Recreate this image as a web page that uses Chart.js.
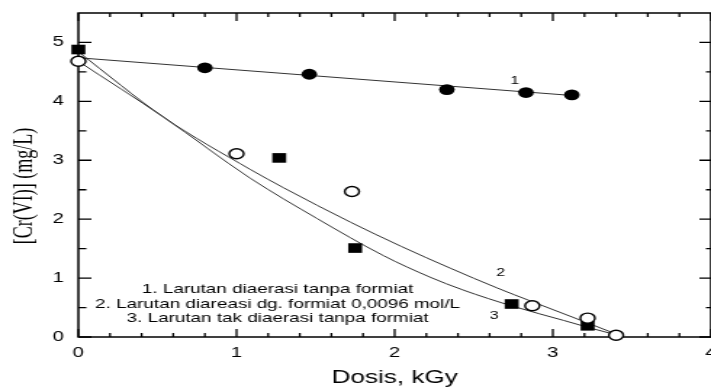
<!DOCTYPE html>
<html>
<head>
<meta charset="utf-8">
<script src="https://cdn.jsdelivr.net/npm/chart.js@4.4.1/dist/chart.umd.min.js"></script>
<style>
  html, body { margin: 0; padding: 0; background: #fff; overflow: hidden; }
  #wrap { width: 711px; height: 387px; overflow: hidden; position: relative; }
  #c { position: absolute; left: 0; top: 0; transform: scaleX(1.451); transform-origin: 0 0; }
</style>
</head>
<body>
<div id="wrap"><canvas id="c" width="490" height="387" style="width:490px;height:387px"></canvas></div>
<script>
// ---- data ----
// 1. Larutan diaerasi tanpa formiat (filled circles)
const s1Dose = [0.80, 1.46, 2.33, 2.83, 3.12];
const s1Cr   = [4.57, 4.46, 4.20, 4.15, 4.11];
// 2. open circles
const s2Dose = [0.00, 1.00, 1.73, 2.87, 3.22, 3.40];
const s2Cr   = [4.68, 3.11, 2.47, 0.53, 0.32, 0.03];
// 3. filled squares
const s3Dose = [0.00, 1.27, 1.75, 2.74, 3.22];
const s3Cr   = [4.88, 3.04, 1.51, 0.56, 0.19];
// fitted lines
const fit1Dose = [0.00, 3.12];
const fit1Cr   = [4.74, 4.10];
const fit2Dose = [0.00, 0.54, 1.09, 1.30, 1.72, 2.04, 2.35, 2.65, 2.86, 3.17, 3.41];
const fit2Cr   = [4.84, 3.73, 2.84, 2.53, 1.95, 1.54, 1.17, 0.83, 0.61, 0.29, 0.04];
const fit3Dose = [0.00, 0.54, 1.09, 1.51, 1.93, 2.22, 2.43, 2.75, 3.07, 3.24, 3.41];
const fit3Cr   = [4.68, 3.73, 2.69, 2.01, 1.38, 1.02, 0.80, 0.52, 0.28, 0.15, 0.03];
// tick labels
const xTickValues = [0, 1, 2, 3, 4];
const yTickValues = [0, 1, 2, 3, 4, 5];
// texts
const xTitle = 'Dosis, kGy';
const yTitle = '[Cr(VI)] (mg/L)';
const noteLines = [
  '1. Larutan diaerasi tanpa formiat',
  '2. Larutan diareasi dg. formiat 0,0096 mol/L',
  '3. Larutan tak diaerasi tanpa formiat'
];
const curveLabels = ['1', '2', '3'];

const pts = (xs, ys) => xs.map((v, i) => ({ x: v, y: ys[i] }));
const SANS = '"Liberation Sans", Arial, Helvetica, sans-serif';

const framePlugin = {
  id: 'frame',
  beforeDatasetsDraw(chart) {
    const { ctx, chartArea: a, scales: { x, y } } = chart;
    ctx.save();
    ctx.strokeStyle = '#000';
    ctx.lineWidth = 1.5;
    ctx.strokeRect(a.left, a.top, a.right - a.left, a.bottom - a.top);
    ctx.lineWidth = 1.3;
    ctx.beginPath();
    for (let i = 0; i <= 20; i++) {
      const px = x.getPixelForValue(i * 0.2);
      const L = (i % 5 === 0) ? 8 : 4;
      ctx.moveTo(px, a.bottom); ctx.lineTo(px, a.bottom - L);
      ctx.moveTo(px, a.top); ctx.lineTo(px, a.top + L);
    }
    for (let i = 0; i <= 10; i++) {
      const py = y.getPixelForValue(i * 0.5);
      const major = i % 2 === 0;
      ctx.moveTo(a.left, py); ctx.lineTo(a.left + (major ? 9 : 5.5), py);
      ctx.moveTo(a.right, py); ctx.lineTo(a.right - (major ? 8 : 3.5), py);
    }
    ctx.stroke();
    ctx.restore();
  },
  afterDatasetsDraw(chart) {
    const { ctx, scales: { x, y } } = chart;
    ctx.save();
    ctx.fillStyle = '#000';
    ctx.textAlign = 'center';
    ctx.textBaseline = 'middle';
    ctx.font = '13px ' + SANS;
    const noteX = 1.26, noteY = [0.80, 0.56, 0.32];
    noteLines.forEach((t, i) => ctx.fillText(t, x.getPixelForValue(noteX), y.getPixelForValue(noteY[i])));
    ctx.font = '11px ' + SANS;
    const lblX = [2.76, 2.67, 2.63], lblY = [4.34, 1.09, 0.36];
    curveLabels.forEach((t, i) => ctx.fillText(t, x.getPixelForValue(lblX[i]), y.getPixelForValue(lblY[i])));
    // y-axis title (serif, rotated)
    ctx.translate(17.7, 186);
    ctx.rotate(-Math.PI / 2);
    ctx.font = '18px "Liberation Serif", "Times New Roman", serif';
    ctx.fillText(yTitle, 0, 0);
    ctx.restore();
  }
};

new Chart(document.getElementById('c'), {
  type: 'scatter',
  data: {
    datasets: [
      { data: pts(s1Dose, s1Cr), pointStyle: 'circle', pointRadius: 5.4, backgroundColor: '#000', borderColor: '#000', borderWidth: 0, order: 0, clip: false },
      { data: pts(s2Dose, s2Cr), pointStyle: 'circle', pointRadius: 5, backgroundColor: '#fff', borderColor: '#000', borderWidth: 1.4, order: 0, clip: false },
      { data: pts(s3Dose, s3Cr), pointStyle: 'rect', pointRadius: 6.8, backgroundColor: '#000', borderColor: '#000', borderWidth: 0, order: 0, clip: false },
      { data: pts(fit1Dose, fit1Cr), showLine: true, pointRadius: 0, borderColor: '#333', borderWidth: 1, order: 1, clip: false },
      { data: pts(fit2Dose, fit2Cr), showLine: true, pointRadius: 0, borderColor: '#333', borderWidth: 1, cubicInterpolationMode: 'monotone', order: 1, clip: false },
      { data: pts(fit3Dose, fit3Cr), showLine: true, pointRadius: 0, borderColor: '#333', borderWidth: 1, cubicInterpolationMode: 'monotone', order: 1, clip: false }
    ]
  },
  options: {
    responsive: false,
    devicePixelRatio: 1,
    animation: false,
    events: [],
    layout: { padding: { top: 13, right: 0, bottom: 0, left: 0 }, autoPadding: false },
    plugins: { legend: { display: false }, tooltip: { enabled: false } },
    scales: {
      x: {
        type: 'linear', min: 0, max: 4,
        afterBuildTicks: s => { s.ticks = xTickValues.map(v => ({ value: v })); },
        afterFit: s => { s.height = 50; s.paddingLeft = 0; s.paddingRight = 0; },
        grid: { display: false, drawTicks: false },
        border: { display: false },
        ticks: { color: '#000', padding: 9, maxRotation: 0, autoSkip: false, font: { family: SANS, size: 14, lineHeight: 1 } },
        title: { display: true, text: xTitle, color: '#000', padding: 0, font: { family: SANS, size: 18, lineHeight: 1 } }
      },
      y: {
        type: 'linear', min: 0, max: 5.5,
        afterBuildTicks: s => { s.ticks = yTickValues.map(v => ({ value: v })); },
        afterFit: s => { s.width = 54; s.paddingTop = 0; s.paddingBottom = 0; },
        grid: { display: false, drawTicks: false },
        border: { display: false },
        ticks: { color: '#000', padding: 10, autoSkip: false, font: { family: SANS, size: 14, lineHeight: 1 } }
      }
    }
  },
  plugins: [framePlugin]
});
</script>
</body>
</html>
